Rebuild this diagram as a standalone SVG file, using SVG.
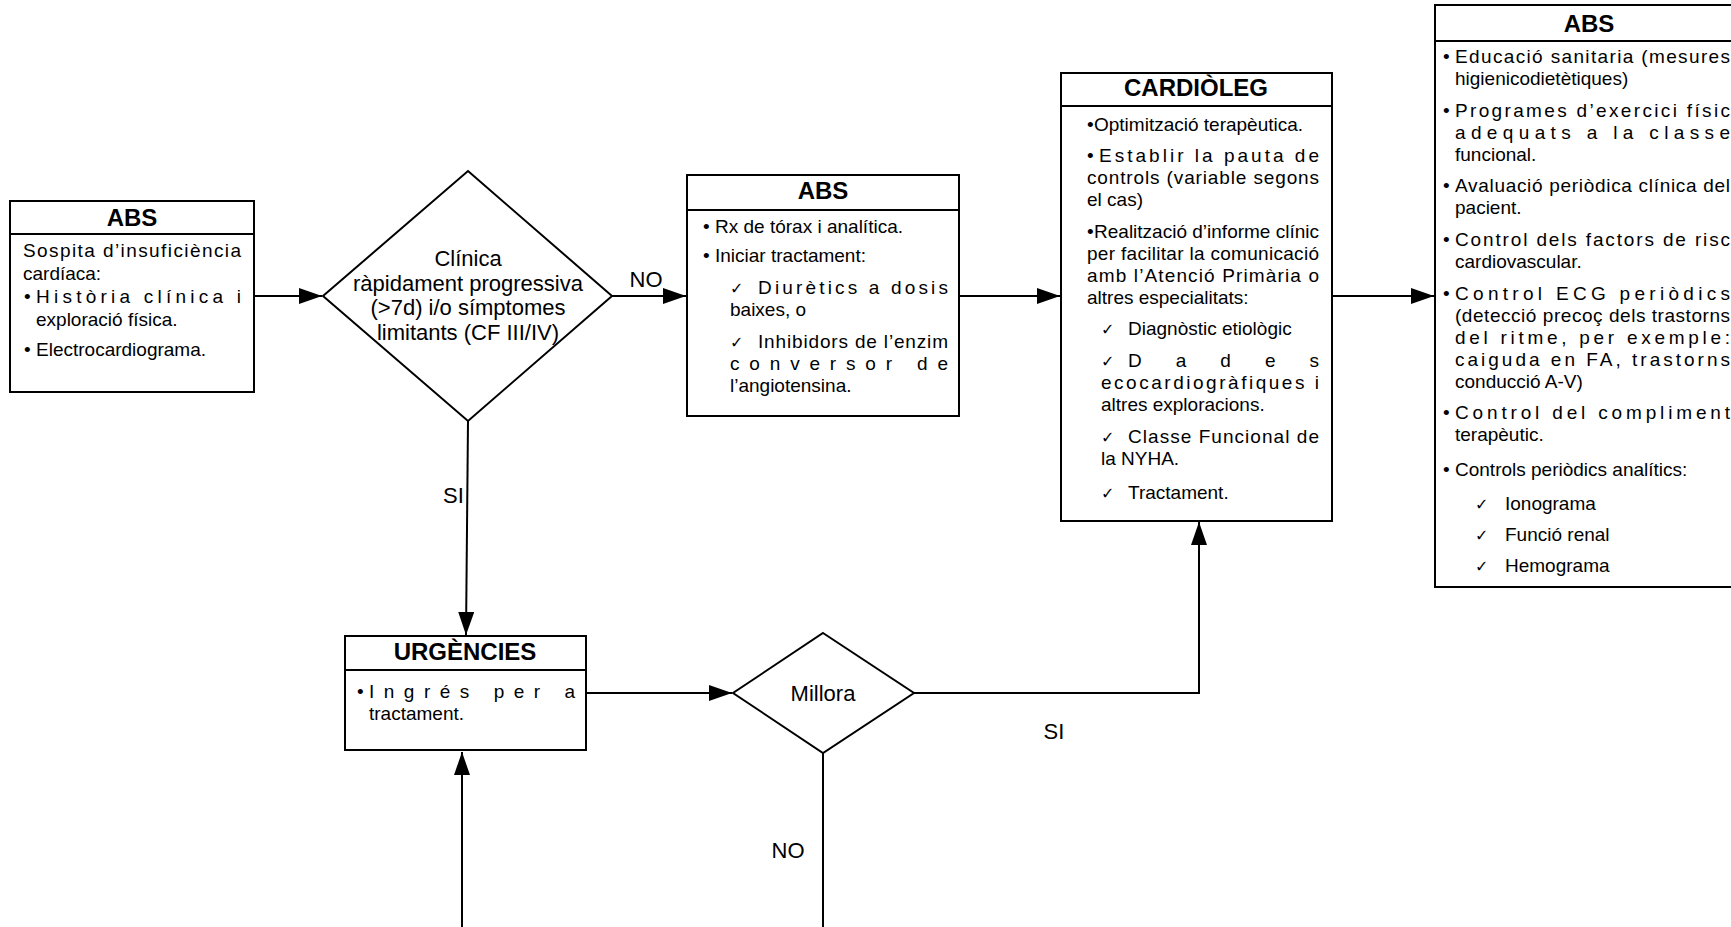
<svg xmlns="http://www.w3.org/2000/svg" width="1731" height="927" viewBox="0 0 1731 927">
<defs>
<style>
.box{fill:#fff;stroke:#000;stroke-width:2}
.dv{stroke:#000;stroke-width:2}
.ttl{font-family:"Liberation Sans",Arial,sans-serif;font-weight:bold;font-size:24px;text-anchor:middle;fill:#000}
.t{font-family:"Liberation Sans",Arial,sans-serif;font-size:19px;fill:#000}
.d{font-family:"Liberation Sans",Arial,sans-serif;font-size:22px;text-anchor:middle;fill:#000}
.lb{font-family:"Liberation Sans",Arial,sans-serif;font-size:22px;fill:#000}
.ck{font-family:"DejaVu Sans",sans-serif;font-size:16px;fill:#000}
.cn{fill:none;stroke:#000;stroke-width:2}
</style>
<marker id="ah" markerUnits="userSpaceOnUse" markerWidth="24" markerHeight="16" refX="23" refY="8" orient="auto">
<path d="M0,0 L23,8 L0,16 z" fill="#000"/>
</marker>
</defs>
<rect width="1731" height="927" fill="#fff"/>

<g id="connectors">
<path class="cn" d="M254,296 L322,296" marker-end="url(#ah)"/>
<path class="cn" d="M612,296 L686,296" marker-end="url(#ah)"/>
<path class="cn" d="M959,296 L1060,296" marker-end="url(#ah)"/>
<path class="cn" d="M1332,296 L1434,296" marker-end="url(#ah)"/>
<path class="cn" d="M468,421 L466,635" marker-end="url(#ah)"/>
<path class="cn" d="M586,693 L732,693" marker-end="url(#ah)"/>
<path class="cn" d="M914,693 L1199,693 L1199,522" marker-end="url(#ah)"/>
<path class="cn" d="M823,753 L823,927"/>
<path class="cn" d="M462,927 L462,752" marker-end="url(#ah)"/>
<text class="lb" x="646" y="287" text-anchor="middle">NO</text>
<text class="lb" x="443" y="503">SI</text>
<text class="lb" x="1054" y="739" text-anchor="middle">SI</text>
<text class="lb" x="788" y="858" text-anchor="middle">NO</text>
</g>

<g id="abs1">
<rect class="box" x="10" y="201" width="244" height="191"/>
<line class="dv" x1="10" y1="234" x2="254" y2="234"/>
<text class="ttl" x="132" y="226">ABS</text>
<text class="t" x="23" y="257" textLength="218" lengthAdjust="spacing">Sospita d’insuficiència</text>
<text class="t" x="23" y="280">cardíaca:</text>
<text class="t" x="24" y="303">•</text>
<text class="t" x="36" y="303" textLength="205" lengthAdjust="spacing">Història clínica i</text>
<text class="t" x="36" y="326">exploració física.</text>
<text class="t" x="24" y="356">•</text>
<text class="t" x="36" y="356">Electrocardiograma.</text>
</g>

<g id="decision1">
<polygon class="box" points="468,171 612,296 468,421 323,296"/>
<text class="d" x="468" y="266">Clínica</text>
<text class="d" x="468" y="291">ràpidament progressiva</text>
<text class="d" x="468" y="315">(&gt;7d) i/o símptomes</text>
<text class="d" x="468" y="340">limitants (CF III/IV)</text>
</g>

<g id="abs2">
<rect class="box" x="687" y="175" width="272" height="241"/>
<line class="dv" x1="687" y1="210" x2="959" y2="210"/>
<text class="ttl" x="823" y="199">ABS</text>
<text class="t" x="703" y="233">•</text>
<text class="t" x="715" y="233">Rx de tórax i analítica.</text>
<text class="t" x="703" y="262">•</text>
<text class="t" x="715" y="262">Iniciar tractament:</text>
<text class="ck" x="730" y="294">✓</text>
<text class="t" x="758" y="294" textLength="190" lengthAdjust="spacing">Diurètics a dosis</text>
<text class="t" x="730" y="316">baixes, o</text>
<text class="ck" x="730" y="348">✓</text>
<text class="t" x="758" y="348" textLength="190" lengthAdjust="spacing">Inhibidors de l’enzim</text>
<text class="t" x="730" y="370" textLength="218" lengthAdjust="spacing">conversor de</text>
<text class="t" x="730" y="392">l’angiotensina.</text>
</g>

<g id="cardioleg">
<rect class="box" x="1061" y="73" width="271" height="448"/>
<line class="dv" x1="1061" y1="106" x2="1332" y2="106"/>
<text class="ttl" x="1196" y="96">CARDIÒLEG</text>
<text class="t" x="1087" y="131">•</text>
<text class="t" x="1094" y="131">Optimització terapèutica.</text>
<text class="t" x="1087" y="162">•</text>
<text class="t" x="1099" y="162" textLength="220" lengthAdjust="spacing">Establir la pauta de</text>
<text class="t" x="1087" y="184" textLength="232" lengthAdjust="spacing">controls (variable segons</text>
<text class="t" x="1087" y="206">el cas)</text>
<text class="t" x="1087" y="238">•</text>
<text class="t" x="1094" y="238" textLength="225" lengthAdjust="spacing">Realització d’informe clínic</text>
<text class="t" x="1087" y="260" textLength="232" lengthAdjust="spacing">per facilitar la comunicació</text>
<text class="t" x="1087" y="282" textLength="232" lengthAdjust="spacing">amb l’Atenció Primària o</text>
<text class="t" x="1087" y="304">altres especialitats:</text>
<text class="ck" x="1101" y="335">✓</text>
<text class="t" x="1128" y="335">Diagnòstic etiològic</text>
<text class="ck" x="1101" y="367">✓</text>
<text class="t" x="1128" y="367" textLength="191" lengthAdjust="spacing">Dades</text>
<text class="t" x="1101" y="389" textLength="218" lengthAdjust="spacing">ecocardiogràfiques i</text>
<text class="t" x="1101" y="411">altres exploracions.</text>
<text class="ck" x="1101" y="443">✓</text>
<text class="t" x="1128" y="443" textLength="191" lengthAdjust="spacing">Classe Funcional de</text>
<text class="t" x="1101" y="465">la NYHA.</text>
<text class="ck" x="1101" y="499">✓</text>
<text class="t" x="1128" y="499">Tractament.</text>
</g>

<g id="abs3">
<rect class="box" x="1435" y="5" width="308" height="582"/>
<line class="dv" x1="1435" y1="41" x2="1743" y2="41"/>
<text class="ttl" x="1589" y="32">ABS</text>
<text class="t" x="1443" y="63">•</text>
<text class="t" x="1455" y="63" textLength="275" lengthAdjust="spacing">Educació sanitaria (mesures</text>
<text class="t" x="1455" y="85">higienicodietètiques)</text>
<text class="t" x="1443" y="117">•</text>
<text class="t" x="1455" y="117" textLength="275" lengthAdjust="spacing">Programes d’exercici físic</text>
<text class="t" x="1455" y="139" textLength="275" lengthAdjust="spacing">adequats a la classe</text>
<text class="t" x="1455" y="161">funcional.</text>
<text class="t" x="1443" y="192">•</text>
<text class="t" x="1455" y="192" textLength="275" lengthAdjust="spacing">Avaluació periòdica clínica del</text>
<text class="t" x="1455" y="214">pacient.</text>
<text class="t" x="1443" y="246">•</text>
<text class="t" x="1455" y="246" textLength="275" lengthAdjust="spacing">Control dels factors de risc</text>
<text class="t" x="1455" y="268">cardiovascular.</text>
<text class="t" x="1443" y="300">•</text>
<text class="t" x="1455" y="300" textLength="275" lengthAdjust="spacing">Control ECG periòdics</text>
<text class="t" x="1455" y="322" textLength="275" lengthAdjust="spacing">(detecció precoç dels trastorns</text>
<text class="t" x="1455" y="344" textLength="275" lengthAdjust="spacing">del ritme, per exemple:</text>
<text class="t" x="1455" y="366" textLength="275" lengthAdjust="spacing">caiguda en FA, trastorns</text>
<text class="t" x="1455" y="388">conducció A-V)</text>
<text class="t" x="1443" y="419">•</text>
<text class="t" x="1455" y="419" textLength="275" lengthAdjust="spacing">Control del compliment</text>
<text class="t" x="1455" y="441">terapèutic.</text>
<text class="t" x="1443" y="476">•</text>
<text class="t" x="1455" y="476">Controls periòdics analítics:</text>
<text class="ck" x="1475" y="510">✓</text>
<text class="t" x="1505" y="510">Ionograma</text>
<text class="ck" x="1475" y="541">✓</text>
<text class="t" x="1505" y="541">Funció renal</text>
<text class="ck" x="1475" y="572">✓</text>
<text class="t" x="1505" y="572">Hemograma</text>
</g>

<g id="urgencies">
<rect class="box" x="345" y="636" width="241" height="114"/>
<line class="dv" x1="345" y1="670" x2="586" y2="670"/>
<text class="ttl" x="465" y="660">URGÈNCIES</text>
<text class="t" x="357" y="698">•</text>
<text class="t" x="369" y="698" textLength="206" lengthAdjust="spacing">Ingrés per a</text>
<text class="t" x="369" y="720">tractament.</text>
</g>

<g id="decision2">
<polygon class="box" points="823,633 914,693 823,753 733,693"/>
<text class="d" x="823" y="701">Millora</text>
</g>
</svg>
